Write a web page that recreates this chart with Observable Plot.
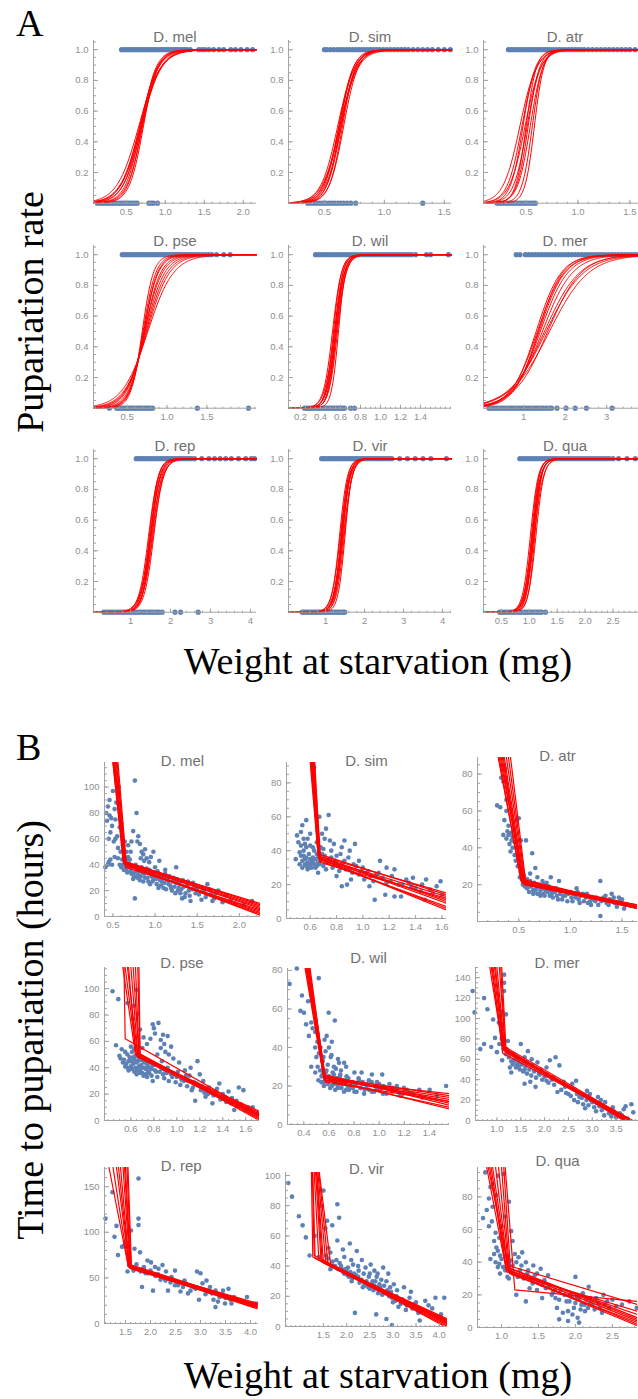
<!DOCTYPE html>
<html><head><meta charset="utf-8">
<script src="https://cdn.jsdelivr.net/npm/d3@7"></script>
<script src="https://cdn.jsdelivr.net/npm/@observablehq/plot@0.6"></script>
<style>
html,body{margin:0;padding:0;background:#fff;}
#root{position:relative;width:638px;height:1399px;overflow:hidden;background:#fff;}
.fw{position:absolute;}
</style></head><body><div id="root"></div>
<script>
// ---------------- DATA: panel A (logistic fits: midpoint, scale; observed 0/1 outcomes) ----------------
const species = ["D. mel","D. sim","D. atr","D. pse","D. wil","D. mer","D. rep","D. vir","D. qua"];

const melMid=[0.66,0.67,0.68,0.69,0.69,0.70,0.70,0.71,0.72,0.68];
const melScale=[0.14,0.12,0.11,0.10,0.13,0.09,0.12,0.10,0.09,0.13];
const simMid=[0.61,0.62,0.62,0.63,0.63,0.64,0.64,0.65,0.66,0.63];
const simScale=[0.07,0.065,0.06,0.055,0.07,0.06,0.065,0.055,0.06,0.075];
const atrMid=[0.44,0.46,0.47,0.49,0.50,0.51,0.52,0.54,0.56,0.58];
const atrScale=[0.08,0.07,0.06,0.075,0.05,0.065,0.055,0.06,0.05,0.045];
const pseMid=[0.69,0.70,0.71,0.72,0.72,0.73,0.74,0.75,0.76,0.71];
const pseScale=[0.07,0.08,0.09,0.10,0.11,0.12,0.13,0.14,0.16,0.085];
const wilMid=[0.52,0.53,0.54,0.54,0.55,0.55,0.56,0.56,0.57,0.58];
const wilScale=[0.045,0.04,0.05,0.042,0.045,0.038,0.048,0.04,0.043,0.035];
const merMid=[1.30,1.33,1.35,1.37,1.40,1.50,1.54,1.58,1.62,1.45];
const merScale=[0.30,0.32,0.29,0.31,0.33,0.42,0.45,0.40,0.47,0.36];
const repMid=[1.45,1.47,1.49,1.50,1.51,1.52,1.54,1.56,1.58,1.50];
const repScale=[0.12,0.11,0.13,0.12,0.11,0.14,0.12,0.13,0.12,0.10];
const virMid=[1.36,1.38,1.40,1.41,1.42,1.43,1.44,1.46,1.48,1.50];
const virScale=[0.10,0.11,0.09,0.10,0.11,0.10,0.09,0.11,0.10,0.09];
const quaMid=[1.02,1.04,1.05,1.06,1.07,1.08,1.09,1.10,1.12,1.06];
const quaScale=[0.07,0.065,0.075,0.06,0.07,0.065,0.08,0.06,0.07,0.075];

const melZero=[0.13,0.16,0.19,0.22,0.25,0.28,0.31,0.34,0.37,0.40,0.43,0.46,0.49,0.52,0.55,0.58,0.61,0.64,0.79,0.82,0.85,0.90];
const melOne=[0.44,0.47,0.50,0.53,0.56,0.59,0.62,0.65,0.68,0.71,0.74,0.77,0.80,0.83,0.86,0.89,0.92,0.95,0.98,1.01,1.04,1.07,1.10,1.13,1.16,1.19,1.22,1.25,1.28,1.32,1.43,1.47,1.51,1.56,1.62,1.69,1.75,1.84,1.90,1.97,2.05,2.12];
const simZero=[0.36,0.385,0.41,0.435,0.46,0.485,0.51,0.535,0.56,0.585,0.61,0.635,0.66,0.69,0.72,0.76,1.32];
const simOne=[0.50,0.52,0.55,0.58,0.61,0.635,0.66,0.685,0.71,0.735,0.76,0.785,0.81,0.835,0.86,0.885,0.91,0.935,0.96,0.99,1.02,1.05,1.08,1.11,1.14,1.17,1.20,1.24,1.28,1.32,1.36,1.40,1.45,1.50,1.55];
const atrZero=[0.22,0.245,0.27,0.295,0.32,0.345,0.37,0.395,0.42,0.445,0.47,0.495,0.52,0.545,0.57,0.59];
const atrOne=[0.33,0.355,0.38,0.405,0.43,0.455,0.48,0.505,0.53,0.555,0.58,0.605,0.63,0.655,0.68,0.705,0.73,0.76,0.79,0.82,0.85,0.88,0.91,0.94,0.97,1.00,1.03,1.06,1.10,1.14,1.18,1.22,1.26,1.30,1.34,1.38,1.42,1.46,1.50,1.55,1.60,1.65];
const pseZero=[0.28,0.37,0.395,0.42,0.445,0.47,0.495,0.52,0.545,0.57,0.595,0.62,0.645,0.67,0.695,0.72,0.745,0.77,0.795,0.82,1.38,2.02];
const pseOne=[0.44,0.47,0.50,0.53,0.56,0.59,0.62,0.65,0.68,0.71,0.74,0.77,0.80,0.83,0.86,0.89,0.92,0.95,0.98,1.01,1.04,1.07,1.10,1.13,1.16,1.19,1.22,1.25,1.28,1.31,1.34,1.37,1.40,1.44,1.48,1.52,1.56,1.62,1.71,1.79];
const wilZero=[0.24,0.26,0.28,0.30,0.32,0.34,0.36,0.38,0.40,0.42,0.44,0.46,0.48,0.50,0.52,0.54,0.56,0.58,0.60,0.62,0.64,0.70,0.74];
const wilOne=[0.35,0.38,0.41,0.44,0.47,0.50,0.53,0.56,0.59,0.62,0.65,0.68,0.71,0.74,0.77,0.80,0.83,0.86,0.89,0.92,0.95,0.98,1.01,1.04,1.07,1.10,1.13,1.16,1.19,1.22,1.25,1.28,1.31,1.35,1.46,1.50,1.68];
const merZero=[0.16,0.22,0.28,0.34,0.40,0.46,0.52,0.58,0.64,0.70,0.76,0.82,0.88,0.94,1.00,1.06,1.12,1.18,1.24,1.30,1.36,1.42,1.48,1.55,1.62,1.67,1.80,2.02,2.24,2.51,3.13];
const merOne=[0.82,0.91,1.04,1.12,1.20,1.28,1.36,1.44,1.52,1.60,1.68,1.76,1.84,1.92,2.00,2.08,2.16,2.24,2.32,2.40,2.48,2.56,2.64,2.72,2.80,2.88,2.96,3.04,3.12,3.20,3.28,3.36,3.44,3.52,3.60,3.68,3.76,3.84,3.92];
const repZero=[0.33,0.39,0.45,0.51,0.57,0.63,0.69,0.75,0.81,0.87,0.93,0.99,1.05,1.11,1.17,1.23,1.29,1.35,1.41,1.47,1.53,1.59,1.65,1.71,1.79,2.11,2.25,2.69];
const repOne=[1.14,1.20,1.26,1.32,1.38,1.44,1.50,1.56,1.62,1.68,1.74,1.80,1.86,1.92,1.98,2.04,2.10,2.16,2.22,2.28,2.34,2.40,2.46,2.52,2.60,2.78,2.96,3.10,3.24,3.38,3.52,3.70,3.88,4.02,4.10];
const virZero=[0.40,0.45,0.50,0.55,0.60,0.65,0.70,0.75,0.80,0.85,0.90,0.95,1.00,1.05,1.10,1.15,1.20,1.25,1.30,1.35,1.40,1.45,1.49];
const virOne=[0.90,0.96,1.02,1.08,1.14,1.20,1.26,1.32,1.38,1.44,1.50,1.56,1.62,1.68,1.74,1.80,1.86,1.92,1.98,2.04,2.10,2.16,2.22,2.28,2.34,2.40,2.46,2.52,2.58,2.64,2.70,2.90,3.10,3.30,3.50,3.70,4.10];
const quaZero=[0.47,0.51,0.55,0.59,0.63,0.67,0.71,0.75,0.79,0.83,0.87,0.91,0.95,0.99,1.03,1.07,1.11,1.15,1.19,1.22,1.29];
const quaOne=[0.83,0.88,0.93,0.98,1.03,1.08,1.13,1.18,1.23,1.28,1.33,1.38,1.43,1.48,1.53,1.58,1.63,1.68,1.73,1.78,1.83,1.88,1.93,1.98,2.03,2.08,2.13,2.18,2.23,2.28,2.33,2.38,2.43,2.50,2.60,2.75,2.90,3.05];

// tick labels, panel A
const aTicksX=[[0.5,1,1.5,2],[0.5,1,1.5],[0.5,1,1.5],[0.5,1,1.5],[0.2,0.4,0.6,0.8,1,1.2,1.4],[1,2,3],[1,2,3,4],[1,2,3,4],[0.5,1,1.5,2,2.5]];
const aTicksY=[0.2,0.4,0.6,0.8,1.0];

// ---------------- DATA: panel B (observations [weight, hours]; segmented fits [xTop, xBreak, yBreak, yEnd]) ----------------
const melPts=[[0.42,80],[0.44,85],[0.46,78],[0.43,74],[0.48,76],[0.52,83],[0.54,88],[0.50,97],[0.57,100],[0.55,62],[0.44,40],[0.47,44],[0.52,46],[0.53,60],[0.58,69],[0.60,72],[0.62,55],[0.64,58],[0.66,50],[0.68,46],[0.70,44],[0.72,58],[0.74,66],[0.76,105],[0.78,80],[0.80,62],[0.82,56],[0.84,50],[0.86,48],[0.88,52],[0.90,45],[0.62,40],[0.66,36],[0.70,38],[0.72,33],[0.75,31],[0.78,36],[0.80,32],[0.82,28],[0.85,34],[0.88,30],[0.90,37],[0.92,27],[0.95,33],[0.98,29],[1.00,38],[1.02,25],[1.05,31],[1.08,27],[1.10,22],[1.12,33],[1.15,28],[1.18,24],[1.20,20],[1.22,30],[1.25,26],[1.28,22],[1.30,18],[1.33,28],[1.35,15],[1.38,24],[1.40,20],[1.42,12],[1.45,26],[1.48,18],[1.50,22],[1.55,13],[1.58,20],[1.62,25],[1.66,17],[1.70,14],[1.75,20],[1.80,11],[1.85,16],[1.90,13],[1.95,10],[2.05,9],[2.15,12],[0.76,14],[0.95,46],[1.05,43],[0.98,50],[1.12,36],[1.25,38],
 [0.41,38],[0.45,42],[0.49,40],[0.56,45],[0.58,40],[0.60,38],[0.61,44],[0.63,36],[0.64,42],[0.65,39],[0.67,34],[0.69,41],[0.71,35],[0.73,39],[0.74,29],[0.76,34],[0.77,40],[0.79,30],[0.81,35],[0.83,31],[0.84,38],[0.86,27],[0.87,33],[0.89,35],[0.91,30],[0.93,36],[0.94,25],[0.96,31],[0.97,27],[0.99,33],[1.01,29],[1.03,35],[1.04,22],[1.06,28],[1.07,24],[1.09,30],[1.11,26],[1.13,21],[1.14,29],[1.16,25],[1.17,31],[1.19,22],[1.21,27],[1.23,23],[1.24,18],[1.26,29],[1.27,20],[1.29,25],[1.31,21],[1.32,14],[1.34,23],[1.36,18],[1.39,27],[1.41,16],[1.44,21],[1.47,23],[1.52,17],[1.56,22],[1.60,15],[1.64,21],[1.68,12],[1.72,18],[0.45,60],[0.47,65],[0.49,70],[0.51,58],[0.46,90],[0.53,75],[0.56,53],[0.59,50],[0.61,63],[0.66,44],[0.68,55],[0.71,50],[0.79,58],[0.83,45],[0.87,43],[0.93,42]];
const simPts=[[0.50,49],[0.53,51],[0.56,44],[0.57,42],[0.59,38],[0.53,37],[0.56,35],[0.49,35],[0.61,34],[0.64,30],[0.67,60],[0.69,50],[0.72,53],[0.74,61],[0.63,89],[0.75,46],[0.78,44],[0.83,38],[0.86,46],[0.89,36],[0.90,40],[0.94,44],[0.97,34],[0.80,25],[0.84,19],[0.91,23],[1.02,27],[1.05,19],[1.09,11],[1.13,34],[1.17,14],[1.18,30],[1.24,29],[1.29,13],[1.33,23],[1.37,19],[1.44,16],[1.48,23],[1.51,17],[1.56,19],[1.59,22],[1.60,14],[1.47,11],[1.24,13],[0.52,32],[0.54,30],[0.55,40],[0.57,31],[0.58,29],[0.60,32],[0.58,47],[0.60,43],[0.62,36],[0.63,32],[0.65,38],[0.66,33],[0.68,35],[0.70,31],[0.71,37],[0.73,33],[0.76,36],[0.77,30],[0.79,34],[0.81,31],[0.82,28],[0.85,33],[0.87,29],[0.92,27],[0.95,31],[0.99,28],[1.01,23],[1.06,25],[1.10,26],[1.15,24],[1.21,22],[1.27,20],[1.35,21],[1.40,18],[0.51,45],[0.55,47],[0.62,42],[0.66,27],[0.70,41],[0.88,20],
 [0.52,39],[0.53,43],[0.54,34],[0.55,37],[0.56,32],[0.57,36],[0.58,33],[0.59,30],[0.60,35],[0.61,30],[0.62,33],[0.63,40],[0.64,35],[0.65,31],[0.66,36],[0.67,32],[0.69,38],[0.72,29],[0.74,35],[0.78,33],[0.80,37],[0.83,30],[0.86,34],[0.90,29],[0.93,32],[0.97,26],[1.00,30],[1.04,28],[1.08,22],[1.12,27],[1.18,21],[1.22,25],[1.30,20],[1.38,24],[1.45,20],[1.53,15],[0.54,55],[0.57,58],[0.60,50],[0.65,45],[0.68,42],[0.71,47],[0.76,40],[0.84,42]];
const atrPts=[[0.34,84],[0.37,83],[0.29,63],[0.32,62],[0.35,76],[0.39,49],[0.40,47],[0.35,47],[0.43,44],[0.45,50],[0.48,55],[0.50,56],[0.42,38],[0.47,33],[0.52,44],[0.53,28],[0.57,44],[0.55,22],[0.58,18],[0.61,26],[0.63,37],[0.66,29],[0.70,15],[0.73,22],[0.76,17],[0.81,24],[0.86,18],[0.89,22],[0.96,16],[1.01,13],[1.06,18],[1.12,15],[1.19,11],[1.25,13],[1.29,22],[1.32,13],[1.35,10],[1.29,3],[1.42,13],[1.48,11],[1.53,9],[0.38,45],[0.41,42],[0.44,40],[0.46,36],[0.49,30],[0.51,24],[0.54,20],[0.56,19],[0.59,21],[0.60,16],[0.62,19],[0.64,17],[0.65,21],[0.67,18],[0.69,20],[0.71,17],[0.72,19],[0.74,15],[0.75,20],[0.78,16],[0.79,19],[0.82,15],[0.84,17],[0.87,14],[0.91,17],[0.93,14],[0.98,15],[1.03,15],[1.08,12],[1.10,14],[1.15,13],[1.17,10],[1.22,12],[1.27,9],[1.38,12],[1.45,8],[1.50,12],[1.40,15],[0.68,24],[0.77,21],
 [0.36,55],[0.38,60],[0.40,52],[0.42,48],[0.44,46],[0.46,43],[0.48,40],[0.50,35],[0.52,27],[0.53,23],[0.55,25],[0.57,21],[0.58,23],[0.60,19],[0.61,22],[0.63,20],[0.64,15],[0.66,17],[0.68,15],[0.70,19],[0.71,14],[0.73,18],[0.75,14],[0.77,18],[0.80,14],[0.81,17],[0.83,13],[0.85,16],[0.88,12],[0.90,15],[0.92,12],[0.95,14],[0.97,11],[1.00,16],[1.02,11],[1.05,13],[1.07,16],[1.09,10],[1.13,11],[1.16,15],[1.20,9],[1.24,11],[1.30,11],[1.34,14],[1.37,9],[1.43,10],[1.47,13],[1.52,7],[0.37,77],[0.33,78],[0.38,66]];
const psePts=[[0.44,98],[0.49,92],[0.57,89],[0.63,87],[0.65,99],[0.66,81],[0.62,77],[0.68,69],[0.71,63],[0.47,57],[0.52,54],[0.50,49],[0.55,52],[0.58,45],[0.62,43],[0.57,40],[0.68,38],[0.73,35],[0.76,40],[0.79,73],[0.84,74],[0.81,66],[0.86,61],[0.89,58],[0.92,64],[0.95,56],[0.83,50],[0.87,45],[0.92,40],[0.79,30],[0.95,35],[1.02,44],[1.07,38],[1.12,40],[1.18,45],[1.20,35],[1.23,30],[1.10,30],[1.13,23],[1.16,15],[1.21,23],[1.25,18],[1.28,25],[1.34,22],[1.37,28],[1.42,18],[1.47,13],[1.50,8],[1.54,25],[1.58,23],[1.62,10],[1.66,10],[1.70,5],[1.31,13],[0.54,46],[0.56,43],[0.59,48],[0.60,41],[0.61,52],[0.63,46],[0.64,40],[0.65,44],[0.66,38],[0.67,47],[0.69,42],[0.70,36],[0.71,45],[0.72,40],[0.74,43],[0.75,37],[0.77,44],[0.78,39],[0.80,42],[0.82,37],[0.85,41],[0.88,35],[0.90,38],[0.97,36],[1.00,33],[1.04,31],[1.08,34],[1.15,29],[1.19,27],[1.26,24],[1.30,21],[1.40,20],[1.45,22],[1.52,15],[1.56,12],[0.86,55],[0.90,52],[0.74,58],
 [0.51,47],[0.53,44],[0.55,41],[0.57,50],[0.58,38],[0.60,45],[0.61,39],[0.62,48],[0.63,37],[0.64,49],[0.65,35],[0.66,45],[0.67,41],[0.68,36],[0.69,46],[0.70,40],[0.71,34],[0.72,44],[0.73,39],[0.74,33],[0.75,41],[0.76,36],[0.78,34],[0.79,42],[0.81,38],[0.83,33],[0.85,37],[0.87,39],[0.89,32],[0.91,36],[0.93,30],[0.96,33],[0.99,29],[1.01,37],[1.03,27],[1.06,30],[1.09,26],[1.11,34],[1.14,25],[1.17,28],[1.22,26],[1.24,21],[1.27,20],[1.32,19],[1.35,24],[1.38,16],[1.43,14],[1.48,17],[1.53,11],[1.60,8],[1.65,7],[0.60,56],[0.63,54],[0.70,55],[0.77,62],[0.80,70],[0.88,65],[0.93,50],[0.97,47]];
const wilPts=[[0.286,73],[0.344,81],[0.385,67],[0.373,59],[0.401,58],[0.418,52],[0.434,64],[0.459,53],[0.491,48],[0.508,43],[0.519,76],[0.532,40],[0.549,33],[0.573,38],[0.598,58],[0.647,54],[0.639,30],[0.623,43],[0.459,30],[0.491,27],[0.516,23],[0.541,25],[0.557,22],[0.573,27],[0.590,21],[0.606,24],[0.623,20],[0.639,26],[0.655,22],[0.672,19],[0.688,25],[0.705,21],[0.721,23],[0.737,18],[0.754,24],[0.770,20],[0.787,22],[0.803,17],[0.819,21],[0.836,24],[0.852,19],[0.869,22],[0.885,18],[0.901,21],[0.918,23],[0.942,17],[0.967,20],[0.983,22],[1.008,18],[1.033,20],[1.057,16],[1.082,21],[1.131,18],[1.164,15],[1.197,19],[1.229,17],[0.590,31],[0.655,29],[0.696,28],[0.737,30],[0.803,27],[0.860,27],[0.942,26],[1.024,26],[0.557,35],[0.614,35],[0.672,34],[0.721,32],[1.106,19],[1.254,16],[1.344,14],[1.402,18],[1.533,20],[1.459,15],[0.565,44],[0.582,46],
 [0.49,40],[0.50,35],[0.51,30],[0.53,28],[0.54,22],[0.55,26],[0.56,20],[0.57,24],[0.58,28],[0.59,22],[0.60,25],[0.61,19],[0.62,23],[0.63,27],[0.64,21],[0.65,18],[0.66,24],[0.67,20],[0.68,22],[0.69,26],[0.70,19],[0.71,23],[0.72,17],[0.73,21],[0.74,25],[0.75,20],[0.76,18],[0.78,22],[0.79,19],[0.81,21],[0.82,17],[0.84,23],[0.85,19],[0.87,21],[0.88,16],[0.90,20],[0.92,18],[0.94,22],[0.96,17],[0.98,19],[1.00,21],[1.03,16],[1.06,19],[1.10,17],[1.14,20],[1.18,15],[1.22,18],[1.27,16],[1.32,18],[0.44,46],[0.47,50],[0.52,37],[0.55,33],[0.60,40],[0.62,36],[0.68,32]];
const merPts=[[0.49,127],[0.53,106],[0.73,120],[0.80,109],[0.92,99],[0.96,81],[1.04,96],[1.15,143],[1.15,135],[1.15,127],[1.11,107],[1.11,94],[1.19,104],[1.23,78],[1.19,65],[0.65,70],[0.73,75],[0.88,72],[1.00,67],[1.11,59],[1.27,52],[1.35,65],[1.42,55],[1.50,75],[1.58,62],[1.65,68],[1.73,60],[1.85,57],[1.88,46],[2.04,52],[2.11,59],[2.23,62],[2.31,54],[1.58,36],[1.81,33],[2.04,39],[2.27,28],[2.43,33],[2.50,26],[2.58,36],[2.66,39],[2.73,23],[2.81,16],[2.89,29],[2.97,20],[3.04,13],[3.12,23],[3.20,10],[3.27,18],[3.35,7],[3.43,13],[3.50,3],[3.58,7],[3.66,11],[3.74,2],[3.82,16],[3.86,8],[1.20,70],[1.25,62],[1.30,58],[1.33,55],[1.38,60],[1.40,52],[1.45,57],[1.48,50],[1.52,55],[1.55,48],[1.60,53],[1.63,46],[1.68,50],[1.72,44],[1.78,48],[1.82,42],[1.90,45],[1.95,40],[2.00,43],[2.08,37],[2.15,40],[2.20,35],[2.35,30],[2.45,27],[2.55,24],[2.62,20],[2.70,18],[2.78,22],[2.85,12],[2.92,15],[3.00,18],[3.08,9],[3.15,14],[3.25,5],[3.30,12],[3.40,4],[1.30,47],[1.70,38],
 [1.05,75],[1.10,80],[1.14,70],[1.22,68],[1.28,66],[1.35,58],[1.42,62],[1.46,53],[1.58,50],[1.62,57],[1.75,54],[1.92,50],[2.05,45],[2.18,42],[2.40,38],[2.60,31],[2.68,26],[2.88,20],[2.95,26],[3.10,17],[3.18,20],[3.45,9],[3.62,5],[3.70,14]];
const repPts=[[1.10,115],[1.24,144],[1.32,107],[1.28,95],[1.35,75],[1.43,84],[1.46,85],[1.50,88],[1.54,57],[1.57,64],[1.61,102],[1.68,82],[1.76,159],[1.76,115],[1.76,108],[1.79,78],[1.83,40],[1.87,62],[1.94,69],[2.01,67],[2.05,36],[2.09,62],[2.16,60],[2.24,64],[2.31,57],[2.35,36],[2.42,51],[2.49,42],[2.60,35],[2.68,47],[2.75,33],[2.86,40],[2.93,57],[2.97,26],[3.04,44],[3.12,47],[3.19,40],[3.23,33],[3.26,26],[3.30,18],[3.38,29],[3.45,36],[3.49,22],[3.56,38],[3.60,26],[3.67,29],[3.93,29],[4.04,22],[4.11,22],[3.00,55],[2.49,58],[1.90,55],[2.10,52],[2.20,48],[2.40,45],[2.55,44],[2.80,36],[3.10,32],[3.35,24],[3.40,30],[3.50,28],[1.70,60],
 [1.62,62],[1.66,58],[1.72,65],[1.80,57],[1.85,60],[1.95,55],[2.00,58],[2.15,54],[2.25,50],[2.30,47],[2.45,48],[2.55,42],[2.65,40],[2.70,44],[2.90,38],[3.15,35],[3.30,36],[3.45,30],[3.55,28],[3.62,22]];
const virPts=[[0.74,95],[0.82,86],[0.97,73],[1.05,67],[1.12,59],[1.20,47],[1.31,60],[1.46,80],[1.50,90],[1.54,65],[1.58,70],[1.61,52],[1.69,67],[1.80,81],[1.84,72],[1.80,57],[1.92,51],[1.95,46],[2.07,55],[2.14,41],[2.22,50],[2.26,37],[2.33,44],[2.37,35],[2.41,39],[2.48,33],[2.52,41],[2.56,30],[2.60,37],[2.64,26],[2.67,35],[2.71,28],[2.79,39],[2.83,22],[2.86,30],[2.90,35],[2.94,26],[2.98,19],[3.02,28],[3.05,17],[3.09,24],[3.17,15],[3.24,26],[3.28,11],[3.36,19],[3.39,23],[3.47,15],[3.55,9],[3.58,4],[3.70,17],[3.77,14],[3.92,19],[4.04,8],[4.11,19],[2.18,9],[2.64,8],[2.86,5],[2.98,1],[1.95,35],[2.11,30],[2.03,39],[2.41,28],[1.60,45],[1.70,43],[1.75,40],[1.85,42],[1.90,38],[2.00,36],[2.05,33],[2.20,34],[2.30,30],[2.45,28],[2.50,25],[2.60,27],[2.70,24],[2.75,31],[1.40,46],[1.65,38],[2.10,44],[2.35,26],
 [1.55,47],[1.65,49],[1.70,40],[1.78,44],[1.82,38],[1.88,40],[1.93,36],[1.98,38],[2.02,34],[2.08,36],[2.12,32],[2.16,35],[2.25,33],[2.28,29],[2.32,31],[2.38,27],[2.43,30],[2.47,26],[2.55,28],[2.58,24],[2.62,30],[2.68,22],[2.72,26],[2.77,21],[2.81,27],[2.88,24],[2.92,20],[2.96,23],[3.00,16],[3.08,20],[3.12,13],[3.20,18],[3.30,14],[3.42,12],[3.50,16],[3.62,10],[3.85,12],[2.50,35],[2.65,33],[2.25,40]];
const quaPts=[[0.78,95],[0.85,86],[0.83,79],[0.88,74],[0.93,81],[0.95,93],[1.03,94],[0.75,67],[0.83,62],[0.90,53],[0.85,42],[0.93,49],[0.98,44],[0.95,37],[1.00,62],[1.05,68],[1.10,77],[1.13,59],[1.15,53],[0.98,33],[1.03,37],[1.08,31],[1.13,41],[1.18,45],[1.23,43],[1.28,46],[1.33,40],[1.35,33],[1.38,24],[1.43,38],[1.48,33],[1.53,36],[1.58,29],[1.63,32],[1.55,18],[1.65,25],[1.73,18],[1.75,12],[1.80,23],[1.83,9],[1.88,16],[1.90,10],[1.93,20],[1.98,12],[2.00,31],[2.03,6],[2.05,18],[2.08,14],[2.10,21],[2.13,10],[2.15,17],[2.18,25],[2.23,14],[2.28,18],[2.33,12],[2.38,20],[2.43,16],[2.50,17],[2.63,14],[2.73,16],[2.83,12],[1.78,5],[1.90,4],[2.05,3],[1.48,23],[1.33,16],[1.20,20],[1.05,35],[1.10,30],[1.15,38],[1.25,35],[1.40,30],[1.70,22],[1.95,19],[2.20,15],
 [0.90,45],[0.92,40],[0.95,47],[0.97,39],[1.00,42],[1.02,37],[1.07,44],[1.09,39],[1.12,35],[1.16,33],[1.20,40],[1.22,31],[1.27,38],[1.30,30],[1.36,35],[1.42,27],[1.45,32],[1.50,28],[1.55,26],[1.60,24],[1.68,20],[1.72,23],[1.78,17],[1.85,20],[1.92,16],[1.96,8],[2.00,15],[2.02,18],[2.07,11],[2.12,14],[2.17,12],[2.20,18],[2.26,11],[2.31,15],[2.36,9],[2.40,14],[2.46,12],[2.55,13],[0.87,65],[0.92,58],[0.97,55],[1.02,50],[0.80,72],[0.88,88]];

const melLines=[[0.50,0.63,42,8],[0.51,0.64,41,6],[0.52,0.64,40,4],[0.53,0.65,40,2],[0.50,0.62,43,9],[0.54,0.66,39,3],[0.55,0.65,38,5],[0.52,0.63,41,7],[0.56,0.66,40,1],[0.51,0.64,42,10]];
const simLines=[[0.60,0.66,37,15],[0.61,0.665,36,13],[0.615,0.67,35,11],[0.62,0.675,36,9],[0.625,0.67,34,7],[0.63,0.68,35,5],[0.605,0.665,38,14],[0.635,0.675,33,12],[0.61,0.66,37,10],[0.62,0.67,35,6]];
const atrLines=[[0.30,0.53,21,8],[0.32,0.54,22,7],[0.34,0.55,20,9],[0.36,0.55,21,8],[0.38,0.56,20,7],[0.40,0.56,22,8],[0.31,0.52,22,9],[0.35,0.54,21,7],[0.42,0.57,20,8],[0.33,0.53,23,8]];
const pseLines=[[0.53,0.64,50,3],[0.55,0.65,49,5],[0.57,0.66,48,2],[0.60,0.66,50,6],[0.62,0.67,49,4],[0.64,0.67,51,1],[0.66,0.68,48,7],[0.54,0.55,62,4],[0.58,0.64,52,3],[0.67,0.68,50,0]];
const wilLines=[[0.41,0.557,25,15],[0.418,0.561,24,13],[0.426,0.565,25,11],[0.434,0.565,23,9],[0.442,0.573,24,14],[0.45,0.573,22,12],[0.418,0.557,26,10],[0.434,0.565,24,8],[0.426,0.561,23,16],[0.442,0.569,25,12]];
const merLines=[[0.85,1.12,72,-6],[0.88,1.13,70,-5],[0.92,1.14,71,-8],[0.95,1.15,69,-4],[1.00,1.16,70,-7],[1.05,1.18,68,-3],[1.08,1.17,67,-6],[0.90,1.12,66,-5],[1.10,1.19,70,-9],[0.97,1.14,73,-4]];
const repLines=[[1.17,1.55,64,19],[1.25,1.56,62,18],[1.32,1.57,63,20],[1.40,1.58,61,17],[1.45,1.59,62,21],[1.50,1.60,60,18],[1.53,1.61,63,19],[1.55,1.62,61,16],[1.36,1.57,65,20],[1.48,1.60,62,22]];
const virLines=[[1.24,1.27,46,4],[1.27,1.32,45,2],[1.30,1.40,44,0],[1.33,1.45,43,3],[1.36,1.50,42,1],[1.38,1.55,42,5],[1.40,1.60,41,2],[1.26,1.30,47,3],[1.35,1.47,44,-1],[1.41,1.66,40,4]];
const quaLines=[[0.80,1.06,36,4],[0.84,1.07,35,2],[0.88,1.08,37,6],[0.92,1.09,34,1],[0.96,1.10,35,8],[1.00,1.11,33,3],[1.03,1.12,36,5],[0.86,1.07,34,10],[1.05,1.18,23,16],[0.82,1.09,38,14]];

const bTicksX=[[0.5,1,1.5,2],[0.6,0.8,1,1.2,1.4,1.6],[0.5,1,1.5],[0.6,0.8,1,1.2,1.4,1.6],[0.4,0.6,0.8,1,1.2,1.4],[1,1.5,2,2.5,3,3.5],[1.5,2,2.5,3,3.5,4],[1.5,2,2.5,3,3.5,4],[1,1.5,2,2.5]];
const bTicksY=[[0,20,40,60,80,100],[0,20,40,60,80],[20,40,60,80],[0,20,40,60,80,100],[0,20,40,60,80],[0,20,40,60,80,100,120,140],[0,50,100,150],[0,20,40,60,80,100],[0,20,40,60,80]];

// ---------------- LAYOUT (pixels, domains) ----------------
const aCols=[[93,256],[288,451],[483,646]];
const aRowsBottom=[203,408,611.5];
const aTitleY=[31,235,440];
const aXDomains=[[0.08,2.17],[0.2,1.56],[0.09,1.66],[0.08,2.12],[0.08,1.71],[0.03,3.96],[0.07,4.15],[0.05,4.23],[0.18,3.1]];
const bFrames=[ // left,right,top,bottom,titleY
 [103.5,259.5,762,916,755],[286,446,762,918,755],[477,637,757,921,750],
 [104,259,967,1120,957],[287,449,968,1124,952],[475,638,967,1120,957],
 [103.5,257,1167,1323,1160],[285,447,1172,1326,1163],[477,637,1167,1327,1155]];
const bXDomains=[[0.4,2.25],[0.42,1.635],[0.1,1.65],[0.37,1.72],[0.27,1.56],[0.55,3.97],[1.08,4.15],[0.68,4.18],[0.675,2.84]];
const bYDomains=[[0,119],[0,92],[0,89],[0,116],[0,81],[0,150],[0,171],[0,102],[0,98]];

// ---------------- RENDER ----------------
const BLUE="#5E81B5", RED="#FF0000";
const SANS="'Liberation Sans', Arial, sans-serif";
const AXIS_GREY="#a3a3a3", LABEL_GREY="#8f8f8f", TITLE_GREY="#707070";
const root=document.getElementById("root");

function minorOf(ticks, dom){
  const st=ticks[1]-ticks[0];
  const mant=st/Math.pow(10,Math.floor(Math.log10(st)+1e-9));
  const sub=Math.abs(mant-2)<1e-6? st/4 : st/5;
  const out=[];
  for(let k=Math.ceil(dom[0]/sub-1e-9); k*sub<=dom[1]+1e-9; k++) out.push(+(k*sub).toFixed(6));
  return out;
}

function facet(f, marks){
  const ML=36, MR=4, MT=26, MB=18;
  const iw=f.right-f.left, ih=f.bottom-f.top;
  const W=iw+ML+MR, H=ih+MT+MB;
  const none=()=> "";
  const svg=Plot.plot({
    width:W, height:H, marginLeft:ML, marginRight:MR, marginTop:MT, marginBottom:MB,
    style:{background:"none", overflow:"visible", fontFamily:SANS},
    x:{domain:f.xDomain}, y:{domain:f.yDomain},
    marks:[
      ...marks,
      Plot.ruleY([f.yDomain[0]],{stroke:AXIS_GREY,strokeWidth:1}),
      Plot.ruleX([f.xDomain[0]],{stroke:AXIS_GREY,strokeWidth:1}),
      Plot.axisX(f.xTicks,{anchor:"bottom",tickSize:0,tickPadding:5,tickFormat:f.xFmt,fontSize:9.5,fill:LABEL_GREY,label:null,fontFamily:SANS}),
      Plot.axisX(f.xTicks,{anchor:"top",dy:ih,tickSize:4,tickFormat:none,stroke:AXIS_GREY,label:null}),
      Plot.axisX(minorOf(f.xTicks,f.xDomain),{anchor:"top",dy:ih,tickSize:2,tickFormat:none,stroke:AXIS_GREY,label:null}),
      Plot.axisY(f.yTicks,{anchor:"left",tickSize:0,tickPadding:5,tickFormat:f.yFmt,fontSize:9.5,fill:LABEL_GREY,label:null,fontFamily:SANS}),
      Plot.axisY(f.yTicks,{anchor:"right",dx:-iw,tickSize:4,tickFormat:none,stroke:AXIS_GREY,label:null}),
      Plot.axisY(minorOf(f.yTicks,f.yDomain),{anchor:"right",dx:-iw,tickSize:2,tickFormat:none,stroke:AXIS_GREY,label:null}),
      Plot.text([f.title],{frameAnchor:"top",dy:f.titleY-f.top,fontSize:15,fill:TITLE_GREY,fontFamily:SANS})
    ]
  });
  const wrap=document.createElement("div");
  wrap.className="fw";
  wrap.style.left=(f.left-ML)+"px"; wrap.style.top=(f.top-MT)+"px"; wrap.style.width=W+"px";
  wrap.appendChild(svg);
  root.appendChild(wrap);
}

// Panel A
const aMid=[melMid,simMid,atrMid,pseMid,wilMid,merMid,repMid,virMid,quaMid];
const aScale=[melScale,simScale,atrScale,pseScale,wilScale,merScale,repScale,virScale,quaScale];
const aZero=[melZero,simZero,atrZero,pseZero,wilZero,merZero,repZero,virZero,quaZero];
const aOne=[melOne,simOne,atrOne,pseOne,wilOne,merOne,repOne,virOne,quaOne];
const f1=d3.format(".1f"), fint=d3.format("d");
species.forEach((sp,i)=>{
  const col=i%3, row=Math.floor(i/3);
  const dom=aXDomains[i];
  const bottom=aRowsBottom[row];
  const ih=1.06*153.5;
  const grid=d3.range(0,241).map(k=>dom[0]+(dom[1]-dom[0])*k/240);
  const curves=[];
  aMid[i].forEach((m,c)=>{ const s=aScale[i][c]; grid.forEach(x=>curves.push({c,x,y:1/(1+Math.exp(-(x-m)/s))})); });
  const pts=[...aZero[i].map(x=>({x,y:0})),...aOne[i].map(x=>({x,y:1}))];
  const intTicks=aTicksX[i].every(t=>Number.isInteger(t));
  facet({left:aCols[col][0],right:aCols[col][1],top:bottom-ih,bottom,xDomain:dom,yDomain:[0,1.06],
    xTicks:aTicksX[i],yTicks:aTicksY,xFmt:intTicks?fint:f1,yFmt:f1,title:sp,titleY:aTitleY[row]},
   [Plot.dot(pts,{x:"x",y:"y",r:2.6,fill:BLUE,stroke:"none"}),
    Plot.line(curves,{x:"x",y:"y",z:"c",stroke:RED,strokeWidth:1})]);
});

// Panel B
const bPts=[melPts,simPts,atrPts,psePts,wilPts,merPts,repPts,virPts,quaPts];
const bLines=[melLines,simLines,atrLines,pseLines,wilLines,merLines,repLines,virLines,quaLines];
species.forEach((sp,i)=>{
  const [l,r,t,b,ty]=bFrames[i];
  const xd=bXDomains[i], yd=bYDomains[i];
  const segs=[];
  bLines[i].forEach((L,c)=>{ segs.push({c,x:L[0],y:yd[1]},{c,x:L[1],y:L[2]},{c,x:xd[1],y:L[3]}); });
  facet({left:l,right:r,top:t,bottom:b,xDomain:xd,yDomain:yd,xTicks:bTicksX[i],yTicks:bTicksY[i],
    xFmt:f1,yFmt:fint,title:sp,titleY:ty},
   [Plot.dot(bPts[i],{x:d=>d[0],y:d=>d[1],r:2.3,fill:BLUE,stroke:"none"}),
    Plot.line(segs,{x:"x",y:"y",z:"c",stroke:RED,strokeWidth:1.2,clip:true})]);
});

// Panel letters and axis titles
const ov=d3.select(root).append("svg").attr("width",638).attr("height",1399)
  .style("position","absolute").style("left","0px").style("top","0px").style("pointer-events","none");
const SERIF="'Liberation Serif','Times New Roman',serif";
function big(txt,x,y,rot,anchor){
  ov.append("text").attr("transform",`translate(${x},${y}) rotate(${rot})`).attr("text-anchor",anchor)
   .attr("font-family",SERIF).attr("font-size",38).attr("fill","#000").text(txt);
}
big("A",16,36,0,"start");
big("B",16,760,0,"start");
big("Pupariation rate",43,312,-90,"middle");
big("Weight at starvation (mg)",378,674,0,"middle");
big("Time to pupariation (hours)",43,1030,-90,"middle");
big("Weight at starvation (mg)",378,1388,0,"middle");
</script></body></html>
